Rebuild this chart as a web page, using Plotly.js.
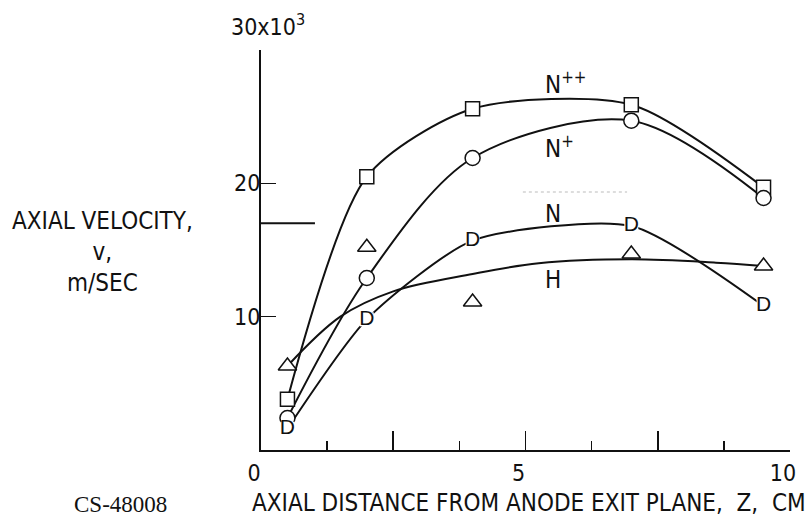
<!DOCTYPE html>
<html>
<head>
<meta charset="utf-8">
<script src="https://cdn.plot.ly/plotly-3.0.1.min.js"></script>
<style>
  html, body { margin: 0; padding: 0; background: #fff; }
  #chart { width: 807px; height: 522px; }
</style>
</head>
<body>
<div id="chart"></div>
<script>
// Axial distance from the anode exit plane, cm (measurement stations)
const zStations = [0.5, 2, 4, 7, 9.5];

// Axial velocity, thousands of m/sec, per species
const vNpp = [3.8, 20.5, 25.6, 25.9, 19.7];   // N++  (squares)
const vNp  = [2.4, 12.9, 21.9, 24.7, 18.9];   // N+   (circles)
const vN   = [1.6, 9.8, 15.7, 16.8, 10.8];    // N    (D symbols)
const vH   = [6.3, 15.2, 11.1, 14.7, 13.8];   // H    (triangles)

// Faired curve through the scattered H data
const hFitZ = [0.5, 1.5, 2.5, 4, 5.25, 7, 8.6, 9.5];
const hFitV = [6.3, 10.0, 11.9, 13.2, 14.0, 14.3, 14.05, 13.8];

// Short reference stroke on the velocity axis and a faint dotted stroke
const stubZ = [0, 1.02];
const stubV = [17.0, 17.0];
const dotZ = [4.95, 6.92];
const dotV = [19.35, 19.35];

// Tick labels
const xTickVals = [0, 2.5, 5, 7.5, 10];
const xTickText = ['0', '', '5', '', '10'];
const yTickVals = [10, 20, 30];
const yTickText = ['10', '20', ''];

const INK = '#111';
const NARROW = '"DejaVu Sans Condensed", "Liberation Sans Narrow", "Liberation Sans", sans-serif';

function curve(x, y, smoothing) {
  return {
    x: x, y: y, type: 'scatter', mode: 'lines',
    line: { color: INK, width: 2, shape: 'spline', smoothing: smoothing },
    hoverinfo: 'skip', showlegend: false
  };
}
function points(x, y, symbol, size) {
  return {
    x: x, y: y, type: 'scatter', mode: 'markers',
    marker: { symbol: symbol, size: size, color: '#fff', line: { color: INK, width: 1.5 } },
    showlegend: false
  };
}

const traces = [
  { x: stubZ, y: stubV, type: 'scatter', mode: 'lines', line: { color: INK, width: 2 }, showlegend: false },
  { x: dotZ, y: dotV, type: 'scatter', mode: 'lines', line: { color: '#bbb', width: 1, dash: 'dot' }, showlegend: false },
  curve(zStations, vNpp, 0.75),
  curve(zStations, vNp, 0.9),
  curve(zStations, vN, 0.65),
  curve(hFitZ, hFitV, 1),
  points(zStations, vNpp, 'square', 14),
  points(zStations, vNp, 'circle', 15),
  points(zStations, vH, 'triangle-up', 16),
  // N stations: white backing, then a "D" shaped glyph
  { x: zStations, y: vN, type: 'scatter', mode: 'markers',
    marker: { symbol: 'square', size: 14, color: '#fff' }, showlegend: false },
  { x: zStations, y: vN, type: 'scatter', mode: 'text',
    text: zStations.map(() => 'D'), textposition: 'middle center',
    textfont: { family: '"Liberation Sans", Arial, sans-serif', size: 21, color: INK },
    showlegend: false }
];

const layout = {
  width: 807, height: 522,
  margin: { l: 261, r: 17, t: 50, b: 72 },
  paper_bgcolor: '#fff', plot_bgcolor: '#fff',
  showlegend: false,
  xaxis: {
    range: [0, 10], showgrid: false, zeroline: false,
    showline: true, linecolor: INK, linewidth: 2,
    ticks: 'inside', ticklen: 19, tickwidth: 1.6, tickcolor: INK,
    tickvals: xTickVals, ticktext: xTickText,
    minor: { dtick: 1.25, tick0: 0, ticks: 'inside', ticklen: 9, tickwidth: 1.6, tickcolor: INK, showgrid: false },
    tickfont: { family: NARROW, size: 23, color: INK },
    ticklabelstandoff: 1, ticklabelshift: -7
  },
  yaxis: {
    range: [0, 30], showgrid: false, zeroline: false,
    showline: true, linecolor: INK, linewidth: 2,
    ticks: 'inside', ticklen: 15, tickwidth: 1.6, tickcolor: INK,
    tickvals: yTickVals, ticktext: yTickText,
    tickfont: { family: NARROW, size: 23, color: INK },
    ticklabelstandoff: -6
  },
  annotations: [
    { text: '30x10<sup>3</sup>', xref: 'x', yref: 'y', x: 0.13, y: 30, yshift: 8,
      xanchor: 'center', yanchor: 'bottom', showarrow: false,
      font: { family: NARROW, size: 23, color: INK } },
    { text: 'AXIAL VELOCITY,<br>v,<br>m/SEC', xref: 'paper', yref: 'paper',
      x: -0.2987, y: 0.495, xanchor: 'center', yanchor: 'middle', align: 'center',
      showarrow: false, font: { family: NARROW, size: 24, color: INK } },
    { text: 'AXIAL DISTANCE FROM ANODE EXIT PLANE,\u00a0 Z,\u00a0 CM', xref: 'paper', yref: 'paper',
      x: 0.5057, y: -0.1325, xanchor: 'center', yanchor: 'middle',
      showarrow: false, font: { family: NARROW, size: 24, color: INK } },
    { text: 'CS-48008', xref: 'paper', yref: 'paper',
      x: -0.2665, y: -0.135, xanchor: 'center', yanchor: 'middle',
      showarrow: false, font: { family: '"Liberation Serif", "DejaVu Serif", serif', size: 23, color: INK } },
    { text: 'N<sup>++</sup>', xref: 'x', yref: 'y', x: 5.33, y: 27.5, xanchor: 'left', yanchor: 'middle',
      showarrow: false, font: { family: NARROW, size: 24, color: INK } },
    { text: 'N<sup>+</sup>', xref: 'x', yref: 'y', x: 5.33, y: 22.7, xanchor: 'left', yanchor: 'middle',
      showarrow: false, font: { family: NARROW, size: 24, color: INK } },
    { text: 'N', xref: 'x', yref: 'y', x: 5.33, y: 17.7, xanchor: 'left', yanchor: 'middle',
      showarrow: false, font: { family: NARROW, size: 24, color: INK } },
    { text: 'H', xref: 'x', yref: 'y', x: 5.33, y: 12.75, xanchor: 'left', yanchor: 'middle',
      showarrow: false, font: { family: NARROW, size: 24, color: INK } }
  ]
};

Plotly.newPlot('chart', traces, layout, { staticPlot: true, displayModeBar: false });
</script>
</body>
</html>
